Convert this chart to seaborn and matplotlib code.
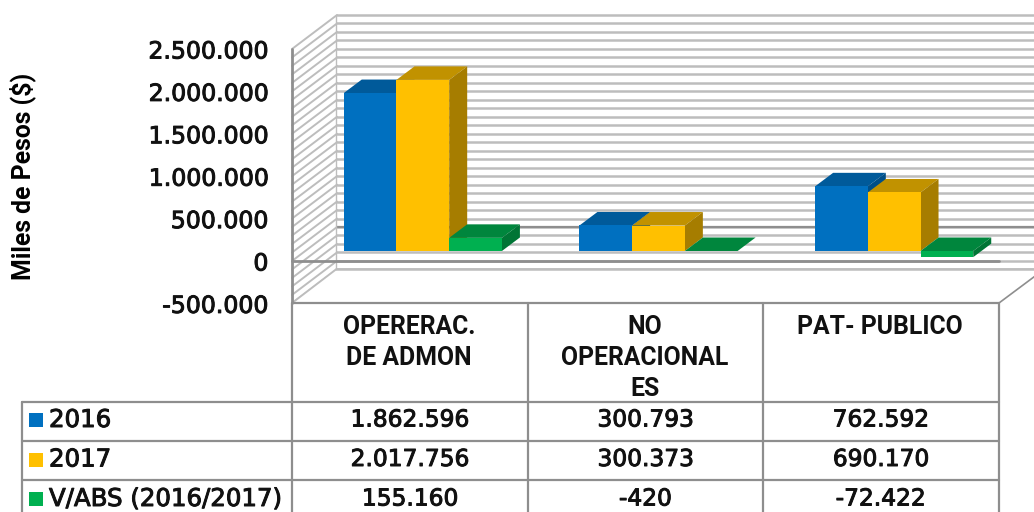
import pandas as pd
import seaborn as sns
import matplotlib.pyplot as plt
import matplotlib.patheffects as pe
from matplotlib.patches import Polygon, Rectangle

categories = ['OPERERAC.\nDE ADMON', 'NO\nOPERACIONAL\nES', 'PAT- PUBLICO']
series_names = ['2016', '2017', 'V/ABS (2016/2017)']
values_2016 = [1862596, 300793, 762592]
values_2017 = [2017756, 300373, 690170]
values_abs = [155160, -420, -72422]
y_ticks = [-500000, 0, 500000, 1000000, 1500000, 2000000, 2500000]
front_colors = ['#0070C0', '#FFC000', '#00B050']
top_colors = ['#005A9A', '#C19200', '#00863D']
side_colors = ['#004F88', '#A67D00', '#007535']

GRID = '#bdbdbd'
DARK = '#8e8e8e'
INK = '#111111'
NUM_FONT = 'DejaVu Sans'
TEXT_FONT = 'Roboto'
# regular DejaVu with a thin outline is closer to the original weight than its bold
HEAVY = [pe.withStroke(linewidth=0.7, foreground=INK)]


def dotted(v):
    return f'{v:,}'.replace(',', '.')


df = pd.DataFrame({
    'cat': categories * 3,
    'serie': [s for s in series_names for _ in categories],
    'valor': values_2016 + values_2017 + values_abs,
})

sns.set_theme(style='white')
fig = plt.figure(figsize=(10.34, 5.12), dpi=100)


# helper: pixel box (top-left origin) to figure fraction
def box(x0, y0, x1, y1):
    return [x0 / 1034, 1 - y1 / 512, (x1 - x0) / 1034, (y1 - y0) / 512]


# background layer in pixels, walls + table go here
bg = fig.add_axes([0, 0, 1, 1], zorder=0)
bg.set_xlim(0, 1034)
bg.set_ylim(512, 0)
bg.axis('off')

# front plane, only used for the y axis
front = fig.add_axes(box(292, 49, 999, 303.4), zorder=1)
front.patch.set_alpha(0)
front.set_ylim(-500000, 2500000)
front.set_xticks([])
front.set_yticks(y_ticks)
front.set_yticklabels([dotted(t) for t in y_ticks], fontsize=17,
                      fontfamily=NUM_FONT, color=INK, path_effects=HEAVY)
front.tick_params(axis='y', length=0, pad=17)
for s in front.spines.values():
    s.set_visible(False)
front.set_ylabel('Miles de Pesos ($)', fontsize=17.8, fontweight='bold',
                 fontfamily=TEXT_FONT, color='black')
front.yaxis.set_label_coords(-0.362, 0.5)

# bars plane, sits inside the depth of the box
ax = fig.add_axes(box(305, 39, 1012, 293.4), zorder=2)
sns.barplot(data=df, x='cat', y='valor', hue='serie', hue_order=series_names,
            palette=front_colors, saturation=1, width=0.671, gap=0,
            linewidth=0, legend=False, ax=ax)
ax.set_xlim(-0.5, 2.5)
ax.set_ylim(-500000, 2500000)
ax.axis('off')


def to_px(x, v):
    p = ax.transData.transform((x, v))
    return bg.transData.inverted().transform(p)


# walls: every 100.000 on the back and left side
for v in range(-500000, 2500001, 100000):
    xb, yb = to_px(-0.5, v)
    bg.plot([xb - 13, xb + 32], [yb + 10, yb - 24], color=GRID, lw=1.4, zorder=1)
    bg.plot([xb + 32, 1044], [yb - 24, yb - 24], color=GRID, lw=1.8, zorder=1)

xb, yb = to_px(-0.5, 0)
bg.plot([xb + 32, 1044], [yb - 24, yb - 24], color=DARK, lw=1.6, zorder=2)
bg.plot([xb - 13, 999], [yb + 10, yb + 10], color=DARK, lw=2, zorder=3)
bg.plot([292, 292], [49, 303], color=DARK, lw=2, zorder=3)
bg.plot([336, 336], [15, 269], color=GRID, lw=1, zorder=2)
bg.add_patch(Polygon([(292, 303), (336, 269.4), (1044, 269.4), (999, 303)],
                     closed=True, fc='white', ec='none', zorder=1.5))
bg.plot([336, 1044], [269.4, 269.4], color=GRID, lw=1.8, zorder=2)
bg.plot([292, 336], [303, 269.4], color=GRID, lw=1.4, zorder=2)
bg.plot([999, 1044], [303, 269.4], color=DARK, lw=1.2, zorder=2)

# 3d faces of the bars, taken from the bars seaborn drew
n = len(categories)
bars = list(ax.patches)
for i, bar in enumerate(bars):
    s = i // n
    base = 3 + s + (i % n) * 0.01
    bar.set_zorder(base + 0.2)
    x0, x1 = bar.get_x(), bar.get_x() + bar.get_width()
    v = bar.get_height() + bar.get_y()
    up = max(bar.get_y(), v)
    low = min(bar.get_y(), v)
    (ax0, ay), (ax1, alow) = to_px(x0, up), to_px(x1, low)
    top = Polygon([(ax0, ay), (ax1, ay), (ax1 + 18, ay - 13.5), (ax0 + 18, ay - 13.5)],
                  closed=True, fc=top_colors[s], ec='none', zorder=base, transform=bg.transData)
    side = Polygon([(ax1, ay), (ax1 + 18, ay - 13.5), (ax1 + 18, alow - 13.5), (ax1, alow)],
                   closed=True, fc=side_colors[s], ec='none', zorder=base + 0.1, transform=bg.transData)
    ax.add_patch(top)
    ax.add_patch(side)
    top.set_clip_on(False)
    side.set_clip_on(False)

# data table
col_x = [292, 528, 763, 999]
row_y = [303, 402, 441, 480]
for x in col_x:
    bg.plot([x, x], [303, 512], color=DARK, lw=1.6, zorder=3)
bg.plot([22, 22], [402, 512], color=DARK, lw=1.6, zorder=3)
bg.plot([292, 999], [303, 303], color=DARK, lw=1.6, zorder=3)
for y in row_y[1:]:
    bg.plot([22, 999], [y, y], color=DARK, lw=1.6, zorder=3)

for j, cat in enumerate(categories):
    cx = (col_x[j] + col_x[j + 1]) / 2
    for k, line in enumerate(cat.split('\n')):
        bg.text(cx - 1, 327.5 + k * 30.5, line, ha='center', va='center', fontsize=17.8,
                fontweight='bold', fontfamily=TEXT_FONT, color=INK)

table_rows = [values_2016, values_2017, values_abs]
for r, (name, vals) in enumerate(zip(series_names, table_rows)):
    yc = 420 + r * 39.5
    bg.add_patch(Rectangle((29, yc - 7), 14, 14, fc=front_colors[r], ec='none', zorder=4))
    bg.text(49, yc, name, ha='left', va='center', fontsize=17.6, fontfamily=NUM_FONT,
            color=INK, path_effects=HEAVY)
    for j, v in enumerate(vals):
        cx = (col_x[j] + col_x[j + 1]) / 2
        bg.text(cx, yc, dotted(v), ha='center', va='center', fontsize=16.8,
                fontfamily=NUM_FONT, color=INK, path_effects=HEAVY)

fig.savefig('out.png', dpi=100)
